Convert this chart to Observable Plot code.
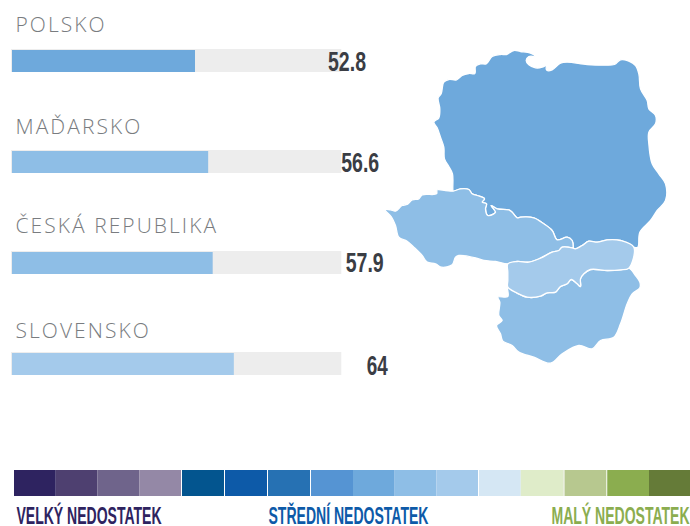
<!DOCTYPE html>
<html><head><meta charset="utf-8">
<script src="https://cdn.jsdelivr.net/npm/d3@7"></script>
<script src="https://cdn.jsdelivr.net/npm/@observablehq/plot@0.6"></script>
<style>
html,body{margin:0;padding:0;background:#fff;overflow:hidden}
#root{position:relative;width:690px;height:526px}
#root svg{position:absolute;left:0;background:transparent;overflow:visible}
.lab text{letter-spacing:2.05px}
</style></head><body><div id="root"></div>
<script>
const countries = ["POLSKO", "MAĎARSKO", "ČESKÁ REPUBLIKA", "SLOVENSKO"];
const values = [52.8, 56.6, 57.9, 64];
const valueLabels = ["52.8", "56.6", "57.9", "64"];
const barColors = ["#6EA9DC", "#8EBEE6", "#8EBEE6", "#A4CAEB"];
const trackMax = 95;
const legendColors = ["#2E2360","#4E4070","#6F648B","#9488A6","#03558F","#0D5AA8","#2671B3","#5594D3","#6EA9DC","#8EBEE6","#A4CAEB","#D5E7F4","#DFECC9","#B7C88F","#8BAD4F","#657B38"];
const legendGaps = [4,5,6,7,11,13,14];
const legendLabels = ["VELKÝ NEDOSTATEK", "STŘEDNÍ NEDOSTATEK", "MALÝ NEDOSTATEK"];
const legendLabelColors = ["#2E2360", "#0D5AA8", "#8BAD4F"];

// Map outlines, in the map's own units
const plCzBorder = [[218,32],[240,25],[265,27],[275,40],[290,45],[312,55],[305,65],[318,70],[315,85],[322,105],[340,100],[345,95],[332,75],[350,85],[385,88],[395,95],[410,112],[420,110],[460,112],[490,130],[515,150],[530,178],[560,170],[575,180],[578,203]];
const plSkBorder = [[578,203],[585,205],[605,195],[625,182],[650,185],[680,178],[720,180],[760,200]];
const czSkBorder = [[382,250],[410,243],[445,245],[480,233],[515,215],[535,210],[545,200],[578,203]];
const skHuBorder = [[382,320],[410,338],[440,350],[480,347],[500,337],[525,335],[540,318],[560,310],[572,297],[590,310],[600,318],[600,295],[610,280],[630,267],[680,270],[720,268],[745,263]];
const polandCoast = [[217,25],[216,-20],[205,-42],[192,-65],[190,-100],[180,-130],[170,-158],[160,-175],[175,-188],[178,-215],[173,-248],[182,-260],[190,-295],[205,-303],[228,-302],[245,-315],[265,-321],[283,-321],[285,-342],[300,-350],[317,-350],[335,-372],[360,-378],[378,-378],[400,-390],[420,-387],[450,-382],[463,-373],[445,-372],[437,-360],[445,-347],[465,-338],[485,-340],[512,-355],[498,-342],[500,-330],[515,-332],[540,-352],[560,-355],[620,-348],[670,-346],[702,-348],[720,-362],[745,-358],[765,-345],[775,-320],[780,-275],[800,-240],[805,-215],[825,-195],[825,-170],[805,-145],[805,-110],[815,-50],[835,-20],[855,10],[855,60],[830,90],[810,120],[778,155],[772,200]];
const czechWest = [[195,30],[170,28],[168,40],[125,43],[115,55],[95,58],[80,72],[65,75],[45,92],[30,88],[14,88],[33,110],[45,135],[55,170],[80,182],[100,200],[125,225],[140,245],[165,250],[183,260],[215,253],[225,230],[235,225],[285,232],[310,240],[345,243]];
const hungaryOuter = [[765,285],[778,305],[778,322],[755,340],[740,370],[720,430],[700,470],[660,480],[635,505],[595,495],[545,520],[510,548],[460,530],[415,515],[395,495],[367,482],[360,460],[348,435],[365,420],[355,405],[358,365],[352,350],[382,348]];
const slovakWest = [[382,300],[382,275]];

const rev = a => [...a].reverse();
const mapShapes = [
  {name:"Polsko", color:barColors[0], pts:[...polandCoast, ...rev(plSkBorder), ...rev(plCzBorder)]},
  {name:"Česká republika", color:barColors[2], pts:[...plCzBorder, ...rev(czSkBorder), ...rev(czechWest)]},
  {name:"Maďarsko", color:barColors[1], pts:[...skHuBorder, ...hungaryOuter]},
  {name:"Slovensko", color:barColors[3], pts:[...czSkBorder, ...plSkBorder, ...rev(skHuBorder), ...slovakWest]}
];

const rows = countries.map((c,i)=>({country:c, value:values[i], label:valueLabels[i], color:barColors[i]}));
const labelDy = [-18, -16.5, -19, -14.5];
const valueDy = [1, 1.5, 0.5, 2];

const valueWidths = {"52.8":38,"56.6":38,"57.9":38,"64":21};
const barsPlot = Plot.plot({
  width:690, height:400, margin:0,
  x:{domain:[0,100], range:[12,358.6], axis:null},
  y:{type:"band", domain:countries, range:[48,375], paddingInner:0.775, paddingOuter:0, axis:null},
  marks:[
    Plot.barX(rows,{x1:0, x2:()=>trackMax, y:"country", fill:"#EDEDED", insetLeft:-1}),
    Plot.barX(rows,{x1:0, x2:"value", y:"country", fill:"color", insetTop:1}),
    ...rows.map((r,i)=>Plot.text([r],{x:0, y:"country", text:"country", frameAnchor:"top", textAnchor:"start", lineAnchor:"bottom", dx:3, dy:labelDy[i]-11.4,
      fill:"#797C80", fontFamily:"Open Sans", fontWeight:300, fontSize:21, className:"lab"})),
    ...rows.map((r,i)=>Plot.text([r],{x:"value", y:"country", text:"label", textAnchor:"start", dx:132.5, dy:valueDy[i], lineAnchor:"middle",
      fill:"#3A3D44", fontFamily:"Liberation Sans", fontWeight:700, fontSize:27, className:"val"}))
  ]
});
barsPlot.style.top="0px";

const mapPlot = Plot.plot({
  width:690, height:526, margin:0,
  x:{domain:[-1140,930], range:[0,690], axis:null},
  y:{domain:[-540,1038], range:[0,526], axis:null},
  marks: mapShapes.map(s=>Plot.line(s.pts,{x:d=>d[0], y:d=>d[1], fill:s.color, stroke:"#fff", strokeWidth:1.3, curve:"catmull-rom-closed"}))
});
mapPlot.style.top="0px";

const swatches = legendColors.map((c,i)=>({i,c}));
const legendPlot = Plot.plot({
  width:690, height:60, margin:0,
  x:{type:"linear", domain:[0,4,8,11,15,16], range:[14,181,353,478,649,690], axis:null},
  y:{domain:[0,60], range:[0,60], axis:null},
  marks:[
    Plot.rectY(swatches,{x1:"i", x2:d=>d.i+1, y1:()=>4, y2:()=>30, fill:"c"}),
    Plot.ruleX(legendGaps,{x:d=>d, y1:()=>4, y2:()=>30, stroke:"#fff", strokeWidth:1}),
    Plot.text([legendLabels[0]],{x:()=>0, y:()=>50, text:d=>d, textAnchor:"start", dx:2, fill:legendLabelColors[0], className:"lg0", fontFamily:"Liberation Sans", fontWeight:700, fontSize:24, lineAnchor:"middle"}),
    Plot.text([legendLabels[1]],{x:()=>8, y:()=>50, text:d=>d, textAnchor:"middle", dx:-5, fill:legendLabelColors[1], className:"lg1", fontFamily:"Liberation Sans", fontWeight:700, fontSize:24, lineAnchor:"middle"}),
    Plot.text([legendLabels[2]],{x:()=>16, y:()=>50, text:d=>d, textAnchor:"end", dx:-1, fill:legendLabelColors[2], className:"lg2", fontFamily:"Liberation Sans", fontWeight:700, fontSize:24, lineAnchor:"middle"})
  ]
});
legendPlot.style.top="466px";

const root = document.getElementById("root");
root.append(barsPlot, mapPlot, legendPlot);

// Squeeze the bold face to the reference's condensed width
d3.select(barsPlot).selectAll(".val text").each(function(){
  const w = valueWidths[this.textContent];
  this.setAttribute("textLength", w); this.setAttribute("lengthAdjust","spacingAndGlyphs");
});
[[".lg0 text",145],[".lg1 text",160],[".lg2 text",138]].forEach(([s,w])=>{
  d3.select(legendPlot).selectAll(s).attr("textLength",w).attr("lengthAdjust","spacingAndGlyphs");
});
</script></body></html>
